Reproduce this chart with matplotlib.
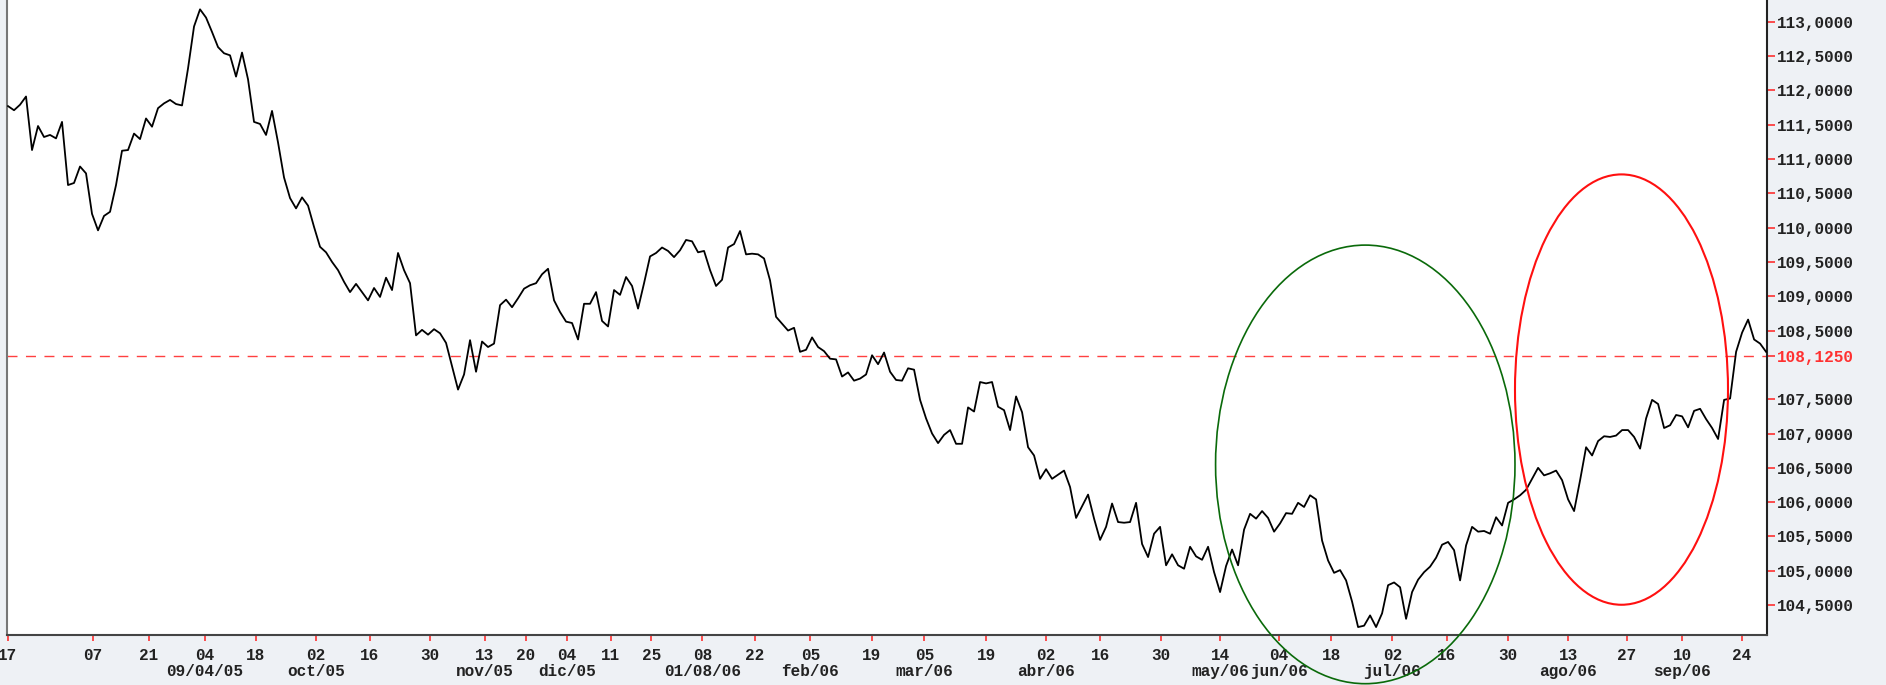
import numpy as np
import matplotlib
matplotlib.use('Agg')
import matplotlib.pyplot as plt
from matplotlib.patches import Ellipse

# closing prices, one value per trading step
prices_a = [111.77, 111.71, 111.79, 111.91, 111.13, 111.48, 111.32, 111.35, 111.30, 111.54,
            110.62, 110.65, 110.89, 110.79, 110.20, 109.96, 110.17, 110.23, 110.62, 111.12,
            111.13, 111.37, 111.29, 111.59, 111.47, 111.74, 111.81, 111.86, 111.80, 111.78,
            112.32, 112.93, 113.18, 113.06, 112.85, 112.63, 112.54, 112.51, 112.20, 112.55,
            112.16, 111.54, 111.51, 111.35, 111.70, 111.24, 110.73, 110.43, 110.28, 110.44,
            110.32, 110.01, 109.72]
prices_b = [109.64, 109.50, 109.38, 109.21, 109.06, 109.18, 109.06, 108.94, 109.12]
prices_c = [108.99, 109.27, 109.09, 109.63, 109.38, 109.19, 108.43, 108.51, 108.44, 108.52,
            108.46, 108.32, 107.98, 107.64, 107.86, 108.36, 107.90, 108.34, 108.26, 108.31,
            108.87, 108.95, 108.84, 108.97, 109.11, 109.16, 109.19, 109.32, 109.40, 108.94,
            108.77, 108.63, 108.61, 108.37, 108.89, 108.89, 109.06, 108.64, 108.56, 109.09,
            109.02, 109.28, 109.15, 108.82, 109.19, 109.58, 109.63, 109.71, 109.66, 109.57,
            109.67, 109.82, 109.80, 109.64]
prices_d = [109.66, 109.38, 109.15, 109.24, 109.71, 109.76, 109.95, 109.61, 109.62, 109.61,
            109.55, 109.23, 108.70, 108.60, 108.50, 108.54, 108.19, 108.22, 108.40, 108.26,
            108.20, 108.09, 108.08, 107.83, 107.89, 107.77, 107.80, 107.86, 108.14, 108.01,
            108.18, 107.90, 107.78, 107.77, 107.95, 107.93, 107.49, 107.22, 107.00, 106.86,
            106.98, 107.05, 106.85, 106.85, 107.38, 107.32, 107.75, 107.73, 107.75, 107.39]
prices_e = [107.34, 107.05, 107.54, 107.31, 106.80, 106.68, 106.34, 106.48, 106.34, 106.40,
            106.46, 106.22, 105.77, 105.94, 106.11, 105.76, 105.45, 105.64, 105.98, 105.71,
            105.70, 105.71, 105.99, 105.39, 105.20, 105.54, 105.64, 105.08, 105.24, 105.08,
            105.03, 105.35, 105.21, 105.16, 105.35, 104.98, 104.69, 105.07, 105.31, 105.08,
            105.60, 105.83, 105.76, 105.87, 105.77, 105.57, 105.69, 105.84, 105.83, 105.99]
prices_f = [105.93, 106.10, 106.04, 105.44, 105.15, 104.97, 105.01, 104.86, 104.55, 104.18,
            104.20, 104.35, 104.18, 104.38, 104.79, 104.83, 104.76, 104.30, 104.69, 104.87,
            104.98, 105.06, 105.19, 105.38, 105.42, 105.30, 104.86, 105.37, 105.64, 105.57,
            105.58, 105.54, 105.78, 105.66, 105.99, 106.04, 106.10, 106.18, 106.34, 106.50,
            106.39, 106.42, 106.46]
prices_g = [106.32, 106.04, 105.87, 106.32, 106.80, 106.68, 106.89, 106.96, 106.95, 106.97,
            107.05, 107.05, 106.95, 106.78, 107.22, 107.49, 107.43, 107.08, 107.12, 107.27,
            107.25, 107.09, 107.33, 107.36, 107.21, 107.08, 106.92, 107.49, 107.51, 108.19,
            108.47, 108.66, 108.37, 108.31, 108.19]

ref_level = 108.125

tick_pos = [0, 14.2, 23.5, 32.8, 41.3, 51.3, 60.3, 70.3, 79.5, 86.3, 93.2, 100.5, 107.2,
            115.7, 124.5, 133.7, 144.0, 152.7, 163.0, 173.0, 182.0, 192.2, 202.0, 211.8,
            220.5, 230.7, 239.8, 250.0, 260.0, 269.8, 279.0, 289.0]
day_labels = ['17', '07', '21', '04', '18', '02', '16', '30', '13', '20', '04', '11', '25',
              '08', '22', '05', '19', '05', '19', '02', '16', '30', '14', '04', '18', '02',
              '16', '30', '13', '27', '10', '24']
month_labels = {3: '09/04/05', 5: 'oct/05', 8: 'nov/05', 10: 'dic/05', 13: '01/08/06',
                15: 'feb/06', 17: 'mar/06', 19: 'abr/06', 22: 'may/06', 23: 'jun/06',
                25: 'jul/06', 28: 'ago/06', 30: 'sep/06'}

# price scale: every half point, except 108 which gives way to the reference level
y_ticks = [113.0, 112.5, 112.0, 111.5, 111.0, 110.5, 110.0, 109.5, 109.0, 108.5,
           107.5, 107.0, 106.5, 106.0, 105.5, 105.0, 104.5]

# highlighted zones: (center step, center price, width in steps, height in price)
green_zone = (226.2, 106.55, 49.9, 6.39)
red_zone = (268.9, 107.64, 35.5, 6.27)

prices = np.array(prices_a + prices_b + prices_c + prices_d + prices_e + prices_f + prices_g)
steps = np.arange(len(prices))

bg = '#eef1f5'
txt = '#222222'
font = dict(family='Liberation Mono', size=11.5, weight='bold')

fig = plt.figure(figsize=(18.86, 6.85), dpi=100, facecolor=bg)
ax = fig.add_axes([7 / 1886, 49.7 / 685, 1759.7 / 1886, 635.3 / 685])
ax.set_facecolor('white')

ax.plot(steps, prices, color='black', lw=1.3, zorder=3)
ax.axhline(ref_level, color='#ff4040', lw=1.0, dashes=(7.2, 6.1), zorder=2)

ax.add_patch(Ellipse(green_zone[:2], green_zone[2], green_zone[3], fill=False,
                     edgecolor='#0a6a0a', lw=1.2, clip_on=False, zorder=6))
ax.add_patch(Ellipse(red_zone[:2], red_zone[2], red_zone[3], fill=False,
                     edgecolor='#ff1010', lw=1.5, clip_on=False, zorder=6))

ax.set_xlim(-0.17, 293.1)
ax.set_ylim(104.06, 113.316)

# right hand price scale
ax.yaxis.tick_right()
yt = y_ticks + [ref_level]
ax.set_yticks(yt)
ax.set_yticklabels([f'{v:.4f}'.replace('.', ',') for v in yt], fontdict=font, color=txt)
ax.get_yticklabels()[-1].set_color('#ff3030')
ax.tick_params(axis='y', which='major', direction='out', length=5.8, width=1.1,
               color='#ff2020', pad=1.5)

xl = []
for i, d in enumerate(day_labels):
    xl.append(d + '\n' + month_labels[i] if i in month_labels else d)
ax.set_xticks(tick_pos)
ax.set_xticklabels(xl, fontdict=font, color=txt, linespacing=1.05)
ax.tick_params(axis='x', which='major', direction='out', length=4.3, width=1.1,
               color='#ff2020', pad=5)

ax.spines['top'].set_visible(False)
ax.spines['left'].set_color('#777777')
ax.spines['left'].set_linewidth(1.5)
ax.spines['bottom'].set_color('#444444')
ax.spines['bottom'].set_linewidth(1.5)
ax.spines['right'].set_color('#222222')
ax.spines['right'].set_linewidth(1.5)

fig.savefig('out.png', dpi=100, facecolor=bg)
